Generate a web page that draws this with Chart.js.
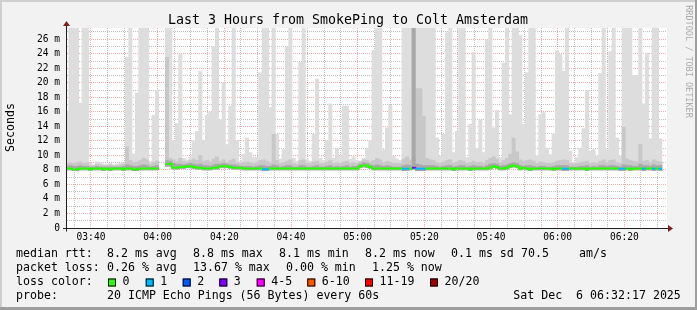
<!DOCTYPE html>
<html>
<head>
<meta charset="utf-8">
<script src="https://cdn.jsdelivr.net/npm/chart.js@4.4.1/dist/chart.umd.min.js"></script>
<style>
  html, body { margin: 0; padding: 0; background: #f2f2f2; }
  canvas { display: block; }
</style>
</head>
<body>
<canvas id="smoke_chart" width="697" height="310"></canvas>
<script>
"use strict";

// one column per minute, minutes since midnight of the first column
const firstMinute = 3 * 60 + 32.8;
const tickLabels = ["03:40", "04:00", "04:20", "04:40", "05:00", "05:20", "05:40", "06:00", "06:20"];

const lossLabels = ["0", "1", "2", "3", "4-5", "6-10", "11-19", "20/20"];
const lossColors = ["#26ff00", "#00b8ff", "#0059ff", "#7e00ff", "#ff00ff", "#ff5500", "#ff0000", "#a10000"];

// ms, highest ping of each minute (28 = above the top of the graph)
const pingMax = [
	16.1, 28, 28, 28, 17.2, 28, 28, 8.9, 8.7, 9.1,
	9.0, 8.8, 8.8, 8.9, 8.7, 8.8, 8.9, 9.0, 23.5, 28,
	10.2, 18.6, 28, 28, 28, 9.2, 15.5, 19.0, null, null,
	28, 28, 12.0, 14.4, 24.0, 9.6, 9.4, 9.7, 12.0, 13.3,
	21.6, 12.1, 15.5, 16.0, 25.0, 28, 14.9, 20.0, 11.5, 16.8,
	28, 12.0, 9.2, 10.2, 12.4, 10.4, 9.7, 9.7, 21.4, 28,
	28, 16.6, 28, 12.9, 9.5, 10.8, 25.0, 28, 9.6, 9.2,
	22.8, 28, 9.4, 9.2, 12.9, 20.5, 9.6, 9.3, 12.0, 17.1,
	9.6, 10.9, 9.9, 16.8, 16.8, 9.5, 9.8, 9.3, 9.1, 9.6,
	11.0, 12.0, 24.5, 28, 28, 10.8, 13.8, 16.9, 9.9, 9.5,
	9.3, 28, 28, 28, 28, 28, 28, 28, 28, 28,
	28, 12.4, 9.9, 12.9, 26.9, 28, 10.4, 13.3, 28, 28,
	9.7, 14.3, 24.2, 11.0, 14.9, 10.4, 25.9, 28, 13.8, 16.2,
	9.7, 22.7, 28, 15.6, 28, 28, 26.5, 14.3, 21.4, 28,
	28, 9.9, 15.6, 15.9, 11.0, 10.1, 12.9, 24.4, 23.9, 21.6,
	28, 10.6, 9.0, 9.7, 11.0, 13.7, 19.0, 10.6, 10.8, 9.9,
	21.3, 28, 10.8, 24.3, 28, 12.4, 9.9, 28, 28, 28,
	21.0, 21.0, 28, 17.1, 24.1, 12.3, 28, 28, 12.3, null
];

// ms, top of the medium grey smoke
const smokeMid = [
	8.9, 9.0, 8.9, 9.0, 9.1, 8.9, 9.0, 8.6, 8.6, 8.8,
	8.7, 8.6, 8.6, 8.7, 8.6, 8.6, 8.7, 8.8, 11.2, 9.3,
	9.0, 9.1, 9.3, 9.6, 9.4, 8.8, 9.0, 9.2, null, null,
	23.5, 9.6, 9.4, 9.2, 9.6, 9.2, 9.1, 9.3, 9.5, 9.3,
	10.0, 9.2, 9.3, 9.1, 9.5, 9.8, 9.2, 9.4, 9.0, 9.3,
	9.5, 9.0, 8.9, 9.0, 9.1, 9.0, 8.9, 9.0, 9.3, 9.4,
	9.2, 9.0, 12.9, 9.3, 8.9, 9.0, 9.2, 9.4, 8.9, 8.8,
	9.3, 9.4, 8.9, 8.9, 9.1, 9.2, 8.9, 8.9, 9.1, 9.3,
	8.9, 9.0, 8.9, 9.1, 9.2, 8.9, 9.0, 8.9, 9.2, 9.4,
	9.3, 9.1, 9.3, 9.6, 9.4, 9.0, 9.2, 9.1, 8.9, 8.9,
	8.9, 9.5, 9.8, 9.4, 28, 19.2, 19.2, 15.4, 9.6, 9.4,
	9.3, 9.0, 8.9, 9.1, 9.3, 9.4, 8.9, 9.1, 9.3, 9.2,
	8.9, 9.0, 9.2, 9.0, 9.1, 8.9, 9.3, 9.6, 9.8, 9.5,
	9.0, 9.3, 9.6, 10.2, 12.4, 10.5, 9.4, 9.2, 9.3, 9.4,
	9.2, 8.9, 9.1, 9.0, 8.9, 8.9, 9.0, 9.2, 9.3, 9.4,
	9.3, 8.9, 8.8, 8.9, 9.0, 9.1, 9.2, 8.9, 9.0, 8.9,
	9.2, 9.4, 9.0, 9.3, 9.4, 9.0, 8.9, 13.9, 9.5, 9.3,
	9.2, 9.1, 11.5, 9.2, 9.3, 9.0, 9.4, 9.2, 9.1, null
];

// ms, top of the dark smoke round the median
const smokeDark = [
	8.5, 8.6, 8.5, 8.5, 8.6, 8.5, 8.5, 8.4, 8.4, 8.5,
	8.4, 8.4, 8.4, 8.4, 8.4, 8.4, 8.4, 8.5, 8.7, 8.6,
	8.5, 8.5, 8.6, 8.7, 8.6, 8.4, 8.5, 8.6, null, null,
	9.3, 9.2, 8.9, 8.8, 8.8, 8.7, 8.8, 8.9, 8.8, 8.7,
	8.8, 8.6, 8.6, 8.5, 8.7, 8.8, 8.8, 8.9, 8.8, 8.7,
	8.7, 8.6, 8.5, 8.5, 8.5, 8.5, 8.4, 8.5, 8.6, 8.6,
	8.5, 8.5, 8.7, 8.6, 8.4, 8.5, 8.6, 8.6, 8.4, 8.4,
	8.6, 8.6, 8.4, 8.4, 8.5, 8.6, 8.4, 8.4, 8.5, 8.6,
	8.4, 8.5, 8.4, 8.5, 8.6, 8.4, 8.5, 8.5, 8.8, 9.0,
	8.9, 8.7, 8.6, 8.7, 8.6, 8.5, 8.6, 8.5, 8.4, 8.4,
	8.4, 8.6, 8.7, 8.6, 28, 8.8, 8.7, 8.6, 8.6, 8.6,
	8.6, 8.5, 8.4, 8.5, 8.6, 8.6, 8.4, 8.5, 8.6, 8.6,
	8.4, 8.5, 8.6, 8.5, 8.5, 8.4, 8.6, 8.8, 8.9, 8.8,
	8.5, 8.6, 8.7, 8.9, 9.0, 8.9, 8.6, 8.5, 8.6, 8.6,
	8.5, 8.4, 8.5, 8.5, 8.4, 8.4, 8.5, 8.6, 8.6, 8.6,
	8.6, 8.4, 8.4, 8.4, 8.5, 8.5, 8.6, 8.4, 8.5, 8.4,
	8.6, 8.6, 8.5, 8.6, 8.6, 8.5, 8.4, 8.7, 8.6, 8.6,
	8.5, 8.5, 8.8, 8.6, 8.6, 8.5, 8.7, 8.6, 8.6, null
];

// ms, lowest ping of each minute
const pingMin = [
	8.0, 8.0, 7.9, 7.9, 8.0, 8.0, 8.0, 7.9, 8.0, 8.0,
	8.0, 7.9, 8.0, 7.9, 8.0, 8.0, 8.0, 7.9, 8.0, 8.0,
	7.9, 7.9, 8.0, 8.0, 8.0, 8.0, 8.0, 8.0, null, null,
	8.5, 8.5, 8.1, 8.1, 8.2, 8.2, 8.3, 8.3, 8.2, 8.1,
	8.1, 8.0, 8.0, 8.0, 8.1, 8.1, 8.3, 8.3, 8.3, 8.2,
	8.1, 8.1, 8.1, 8.0, 8.0, 8.0, 8.0, 8.0, 8.0, 7.9,
	7.9, 8.0, 8.0, 8.0, 8.0, 8.0, 8.0, 8.0, 8.0, 8.0,
	8.0, 8.0, 8.0, 8.0, 8.0, 8.0, 8.0, 8.0, 8.0, 8.0,
	8.0, 8.0, 8.0, 8.0, 8.0, 8.0, 8.0, 8.0, 8.3, 8.4,
	8.3, 8.2, 8.0, 8.0, 8.0, 8.0, 8.0, 8.0, 8.0, 8.0,
	8.0, 7.9, 7.9, 8.0, 8.1, 7.9, 7.9, 7.9, 8.0, 8.0,
	8.0, 8.0, 8.0, 8.0, 8.0, 8.0, 7.9, 8.0, 8.0, 8.0,
	8.0, 7.9, 8.0, 8.0, 8.0, 8.0, 8.0, 8.1, 8.3, 8.2,
	8.0, 8.0, 8.1, 8.3, 8.4, 8.3, 8.0, 8.1, 8.0, 7.9,
	8.0, 8.0, 8.0, 8.0, 8.0, 8.0, 7.9, 8.0, 8.0, 7.9,
	7.9, 8.0, 8.0, 8.0, 8.0, 8.0, 7.9, 8.0, 8.0, 8.0,
	8.0, 8.0, 8.0, 8.0, 8.0, 8.0, 7.9, 7.9, 8.0, 7.9,
	8.0, 8.0, 8.0, 7.9, 8.0, 8.0, 7.9, 8.0, 7.9, null
];

// ms, median rtt
const medianRtt = [
	8.2, 8.2, 8.1, 8.1, 8.2, 8.2, 8.2, 8.1, 8.2, 8.2,
	8.2, 8.1, 8.2, 8.1, 8.2, 8.2, 8.2, 8.1, 8.2, 8.2,
	8.1, 8.1, 8.2, 8.2, 8.2, 8.2, 8.2, 8.2, null, null,
	8.8, 8.8, 8.3, 8.3, 8.4, 8.4, 8.5, 8.5, 8.4, 8.3,
	8.3, 8.2, 8.2, 8.2, 8.3, 8.3, 8.5, 8.5, 8.5, 8.4,
	8.3, 8.3, 8.3, 8.2, 8.2, 8.2, 8.2, 8.2, 8.2, 8.1,
	8.1, 8.2, 8.2, 8.2, 8.2, 8.2, 8.2, 8.2, 8.2, 8.2,
	8.2, 8.2, 8.2, 8.2, 8.2, 8.2, 8.2, 8.2, 8.2, 8.2,
	8.2, 8.2, 8.2, 8.2, 8.2, 8.2, 8.2, 8.2, 8.5, 8.6,
	8.6, 8.4, 8.2, 8.2, 8.2, 8.2, 8.2, 8.2, 8.2, 8.2,
	8.2, 8.15, 8.15, 8.2, 8.3, 8.15, 8.15, 8.15, 8.2, 8.2,
	8.2, 8.2, 8.2, 8.2, 8.2, 8.2, 8.1, 8.2, 8.2, 8.2,
	8.2, 8.1, 8.2, 8.2, 8.2, 8.2, 8.2, 8.3, 8.5, 8.4,
	8.2, 8.2, 8.3, 8.5, 8.6, 8.5, 8.2, 8.3, 8.2, 8.1,
	8.2, 8.2, 8.2, 8.2, 8.2, 8.2, 8.1, 8.2, 8.2, 8.15,
	8.15, 8.2, 8.2, 8.2, 8.2, 8.2, 8.1, 8.2, 8.2, 8.2,
	8.2, 8.2, 8.2, 8.2, 8.2, 8.2, 8.15, 8.15, 8.2, 8.1,
	8.2, 8.2, 8.2, 8.15, 8.2, 8.2, 8.15, 8.2, 8.15, null
];

// lost pings out of 20
const lossCount = [
	0, 0, 0, 0, 0, 0, 0, 0, 0, 0,
	0, 0, 0, 0, 0, 0, 0, 0, 0, 0,
	0, 0, 0, 0, 0, 0, 0, 0, null, null,
	0, 0, 0, 0, 0, 0, 0, 0, 0, 0,
	0, 0, 0, 0, 0, 0, 0, 0, 0, 0,
	0, 0, 0, 0, 0, 0, 0, 0, 0, 1,
	1, 0, 0, 0, 0, 0, 0, 0, 0, 0,
	0, 0, 0, 0, 0, 0, 0, 0, 0, 0,
	0, 0, 0, 0, 0, 0, 0, 0, 0, 0,
	0, 0, 0, 0, 0, 0, 0, 0, 0, 0,
	0, 1, 1, 0, 3, 1, 1, 1, 0, 0,
	0, 0, 0, 0, 0, 0, 0, 0, 0, 0,
	0, 0, 0, 0, 0, 0, 0, 0, 0, 0,
	0, 0, 0, 0, 0, 0, 0, 0, 0, 0,
	0, 0, 0, 0, 0, 0, 0, 0, 0, 1,
	1, 0, 0, 0, 0, 0, 0, 0, 0, 0,
	0, 0, 0, 0, 0, 0, 1, 1, 0, 0,
	0, 0, 0, 1, 0, 0, 1, 0, 1, null
];

const titleText = "Last 3 Hours from SmokePing to Colt Amsterdam";
const rttStats = ["8.2 ms avg", "8.8 ms max", "8.1 ms min", "8.2 ms now", "0.1 ms sd", "70.5", "am/s"];
const lossStats = ["0.26 % avg", "13.67 % max", "0.00 % min", "1.25 % now"];
const probeText = "20 ICMP Echo Pings (56 Bytes) every 60s";
const stampText = "Sat Dec  6 06:32:17 2025";

const MONO = "'DejaVu Sans Mono', monospace";
const majorGrid = "rgba(222, 79, 79, 0.45)";
const minorGrid = "rgba(143, 143, 143, 0.55)";

function lossBucket(n) {
	if (n <= 3) return n;
	if (n <= 5) return 4;
	if (n <= 10) return 5;
	if (n <= 19) return 6;
	return 7;
}

const columns = pingMax.map((v, k) => firstMinute + k);

function smokeBand(lo, hi) {
	return columns.map((x, k) => ({
		x: x,
		y: hi[k] === null ? null : [lo[k], hi[k]],
	}));
}

// median drawn as one flat step per minute
const medianPoints = [];
const medianCol = [];
medianRtt.forEach((v, k) => {
	if (v === null) {
		medianPoints.push({ x: columns[k], y: null });
		medianCol.push(k);
		return;
	}
	medianPoints.push({ x: columns[k] - 0.5, y: v }, { x: columns[k] + 0.5, y: v });
	medianCol.push(k, k);
});

const gridMinutes = [];
for (let m = 215; m <= 390; m += 5) gridMinutes.push(m);

function text(c, str, x, y, size, align, color) {
	c.font = size + "px " + MONO;
	c.textAlign = align || "left";
	c.fillStyle = color || "#000";
	c.fillText(str, x, y);
}

const rrdFrame = {
	id: "rrdFrame",
	beforeDraw(chart) {
		const c = chart.ctx;
		const a = chart.chartArea;
		c.save();
		c.fillStyle = "#f2f2f2";
		c.fillRect(0, 0, chart.width, chart.height);
		c.fillStyle = "#ffffff";
		c.fillRect(a.left, a.top, a.right - a.left, a.bottom - a.top);
		c.restore();
	},
	afterDraw(chart) {
		const c = chart.ctx;
		const a = chart.chartArea;
		const y0 = Math.round(chart.scales.y.getPixelForValue(0)) + 0.5;
		c.save();

		// axes and arrows
		c.strokeStyle = "#1f1f1f";
		c.lineWidth = 1;
		c.beginPath();
		c.moveTo(a.left - 4, y0);
		c.lineTo(a.right + 1, y0);
		c.moveTo(a.left - 0.5, y0 + 3);
		c.lineTo(a.left - 0.5, a.top - 2);
		c.stroke();
		c.fillStyle = "#801f1f";
		c.beginPath();
		c.moveTo(a.right + 1, y0 - 3.5);
		c.lineTo(a.right + 6, y0);
		c.lineTo(a.right + 1, y0 + 3.5);
		c.closePath();
		c.fill();
		c.beginPath();
		c.moveTo(a.left - 4, a.top - 2);
		c.lineTo(a.left - 0.5, a.top - 7);
		c.lineTo(a.left + 3, a.top - 2);
		c.closePath();
		c.fill();

		// title, unit, watermark
		c.textBaseline = "alphabetic";
		text(c, titleText, 348, 24, 13.3, "center");
		c.save();
		c.translate(10.5, 127.5);
		c.rotate(-Math.PI / 2);
		c.textBaseline = "middle";
		text(c, "Seconds", 0, 0, 11.6, "center");
		c.restore();
		c.save();
		c.translate(688, 61.5);
		c.rotate(Math.PI / 2);
		c.textBaseline = "middle";
		text(c, "RRDTOOL / TOBI OETIKER", 0, 0, 8.5, "center", "#ababab");
		c.restore();

		// legend rows
		c.textBaseline = "alphabetic";
		const rows = [257.3, 271.1, 284.9, 298.7];
		text(c, "median rtt:", 16, rows[0], 11.6);
		[107, 193, 279, 365, 451, 521, 579].forEach((x, i) => text(c, rttStats[i], x, rows[0], 11.6));
		text(c, "packet loss:", 16, rows[1], 11.6);
		[107, 193, 286, 372].forEach((x, i) => text(c, lossStats[i], x, rows[1], 11.6));
		text(c, "loss color:", 16, rows[2], 11.6);
		[108, 145.7, 182.7, 219.3, 256.7, 307.3, 365, 430].forEach((x, i) => {
			c.fillStyle = lossColors[i];
			c.fillRect(x, 278.5, 8, 8);
			c.strokeStyle = "#000";
			c.strokeRect(x + 0.5, 279, 7, 7);
			text(c, lossLabels[i], x + 14.5, rows[2], 11.6);
		});
		text(c, "probe:", 16, rows[3], 11.6);
		text(c, probeText, 107, rows[3], 11.6);
		text(c, stampText, 513.3, rows[3], 11.6);

		// shaded frame
		c.fillStyle = "#cfcfcf";
		c.fillRect(0, 0, chart.width, 2);
		c.fillRect(0, 0, 2, chart.height);
		c.fillStyle = "#9e9e9e";
		c.fillRect(chart.width - 2, 0, 2, chart.height);
		c.fillRect(0, chart.height - 3, chart.width, 3);
		c.restore();
	},
};

const barStyle = {
	type: "bar",
	grouped: false,
	barPercentage: 1,
	categoryPercentage: 1,
	borderWidth: 0,
};

new Chart(document.getElementById("smoke_chart"), {
	type: "bar",
	data: {
		datasets: [
			{
				type: "line",
				label: "median rtt",
				data: medianPoints,
				borderWidth: 2,
				borderColor: lossColors[0],
				pointRadius: 0,
				fill: false,
				tension: 0,
				spanGaps: false,
				borderCapStyle: "butt",
				segment: {
					borderColor: (ctx) => lossColors[lossBucket(lossCount[medianCol[ctx.p0DataIndex]] || 0)],
				},
				order: 0,
			},
			Object.assign({ label: "dark smoke", data: smokeBand(pingMin, smokeDark), backgroundColor: "#a8a8a8", order: 1 }, barStyle),
			Object.assign({ label: "mid smoke", data: smokeBand(pingMin, smokeMid), backgroundColor: "#c8c8c8", order: 2 }, barStyle),
			Object.assign({ label: "smoke", data: smokeBand(pingMin, pingMax), backgroundColor: "#dddddd", order: 3 }, barStyle),
		],
	},
	options: {
		responsive: false,
		animation: false,
		devicePixelRatio: 1,
		layout: { padding: { left: 0, right: 30, top: 28, bottom: 0 } },
		plugins: {
			legend: { display: false },
			tooltip: { enabled: false },
		},
		scales: {
			x: {
				type: "linear",
				min: firstMinute,
				max: firstMinute + 180,
				offset: false,
				z: 1,
				afterFit: (s) => {
					s.height = 82;
				},
				afterBuildTicks: (s) => {
					s.ticks = gridMinutes.map((v) => ({ value: v }));
				},
				grid: {
					offset: false,
					drawTicks: false,
					lineWidth: 1,
					color: (ctx) => ((ctx.tick.value - 220) % 20 === 0 ? majorGrid : minorGrid),
				},
				border: { display: false, dash: [1, 1] },
				ticks: {
					autoSkip: false,
					maxRotation: 0,
					padding: 4,
					color: "#000",
					font: { family: MONO, size: 9.6 },
					callback: (v) => ((v - 220) % 20 === 0 ? tickLabels[(v - 220) / 20] : ""),
				},
			},
			y: {
				min: 0,
				max: 27.55,
				z: 1,
				afterFit: (s) => {
					s.width = 67;
				},
				grid: {
					drawTicks: false,
					lineWidth: 1,
					color: (ctx) => {
						if (ctx.tick.value === 0) return "rgba(0,0,0,0)";
						return ctx.tick.value % 2 === 0 ? majorGrid : minorGrid;
					},
				},
				border: { display: false, dash: [1, 1] },
				ticks: {
					stepSize: 1,
					includeBounds: false,
					autoSkip: false,
					padding: 7,
					color: "#000",
					font: { family: MONO, size: 9.6 },
					callback: (v) => (v % 2 !== 0 ? "" : v === 0 ? "0" : v + " m"),
				},
			},
		},
	},
	plugins: [rrdFrame],
});
</script>
</body>
</html>
